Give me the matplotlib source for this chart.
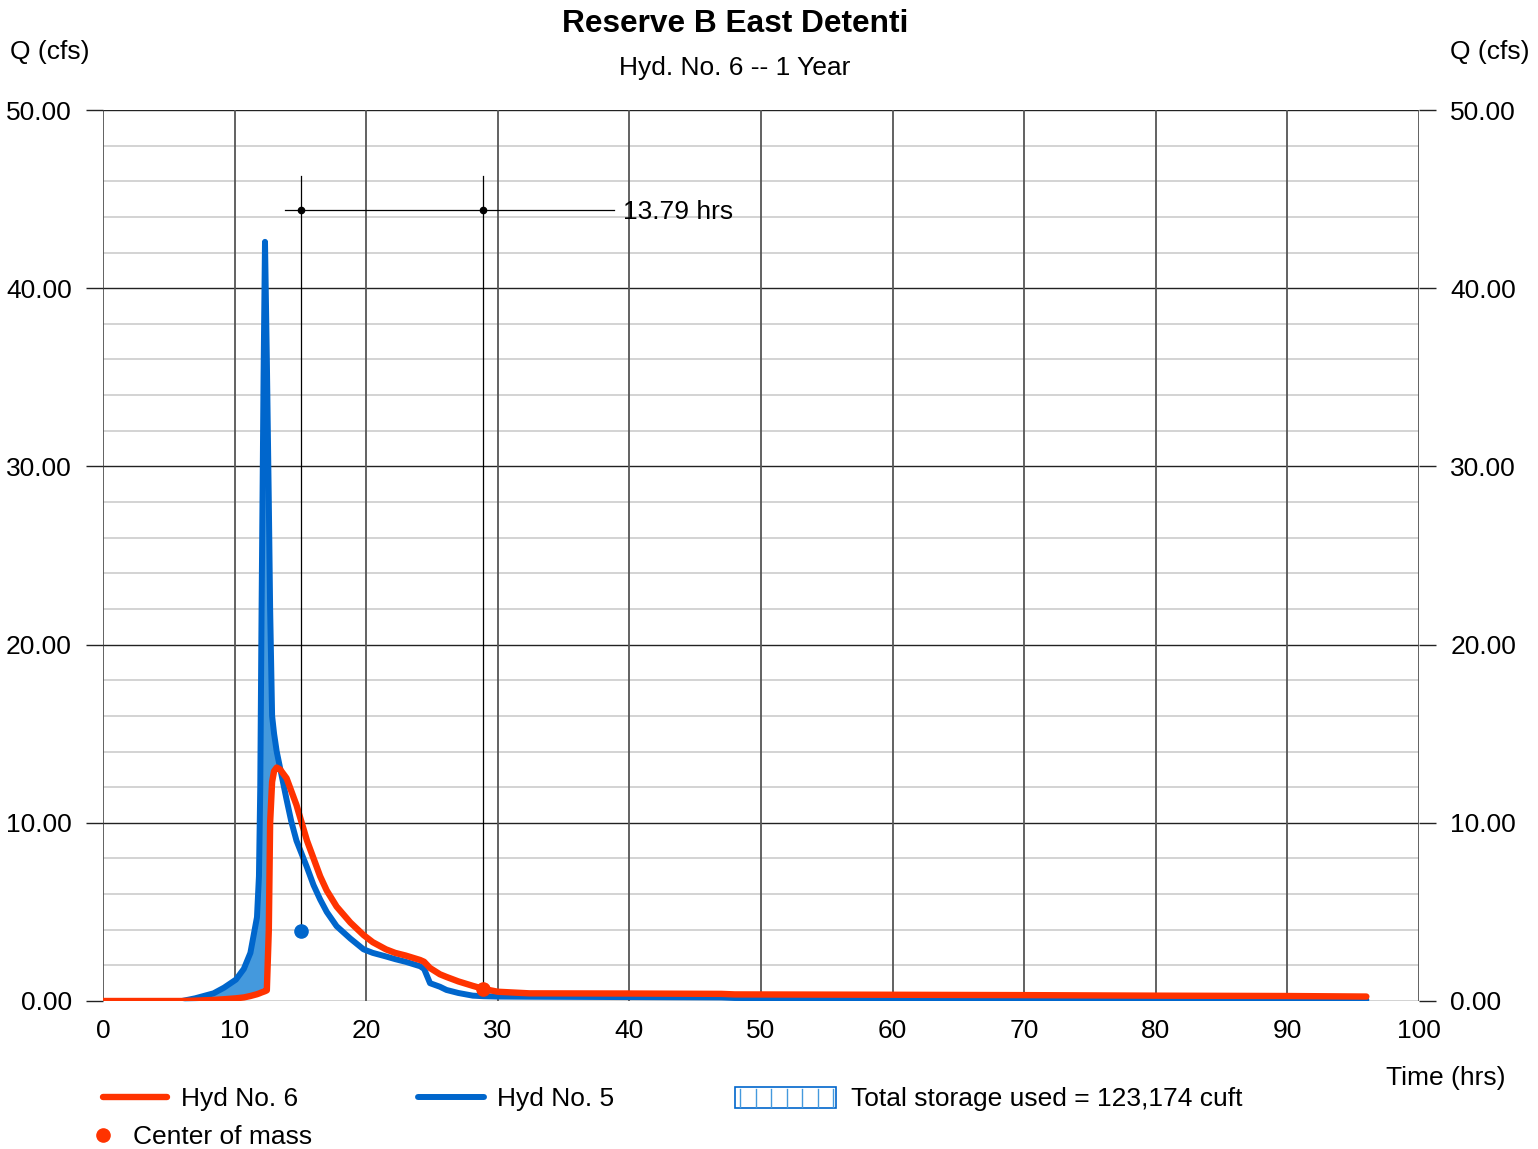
import matplotlib
matplotlib.use("Agg")
import matplotlib.pyplot as plt
from matplotlib.lines import Line2D
from matplotlib.patches import Rectangle
import numpy as np

plt.rcParams['font.family'] = ['Liberation Sans', 'DejaVu Sans']

# ---- data ----
time_hrs = [0, 6, 7, 8.4, 9.2, 10.1, 10.7, 11.2, 11.7, 11.85, 11.95, 12.05, 12.2, 12.31,
            12.45, 12.6, 12.7, 12.85, 13.0, 13.2, 13.45, 13.95, 14.3, 14.7, 15.5, 16.0,
            16.5, 17.0, 17.75, 18.8, 19.8, 20.5, 21.5, 22.2, 23.0, 24.1, 24.4, 24.85,
            25.6, 26.1, 27.0, 28.1, 28.9, 30.0, 32.4, 40, 47, 48, 60, 70, 80, 90, 96]
hyd5_inflow = [0, 0, 0.15, 0.43, 0.75, 1.2, 1.8, 2.7, 4.7, 7.0, 12, 22, 35, 42.6,
               36, 28, 22, 16, 15, 14, 13.1, 11.3, 10.1, 9.0, 7.5, 6.5,
               5.7, 5.0, 4.2, 3.5, 2.9, 2.7, 2.5, 2.35, 2.2, 1.95, 1.8, 1.0,
               0.8, 0.62, 0.45, 0.3, 0.27, 0.25, 0.24, 0.22, 0.2, 0.17, 0.13, 0.1, 0.08, 0.06, 0.06]
hyd6_outflow = [0, 0, 0.02, 0.06, 0.1, 0.15, 0.2, 0.28, 0.38, 0.42, 0.45, 0.48, 0.52, 0.55,
                0.6, 4, 10, 12.3, 12.9, 13.1, 13.0, 12.5, 11.8, 11.0, 9.0, 8.0,
                7.0, 6.2, 5.3, 4.4, 3.7, 3.3, 2.9, 2.7, 2.55, 2.3, 2.2, 1.85,
                1.5, 1.35, 1.1, 0.85, 0.68, 0.52, 0.43, 0.42, 0.4, 0.37, 0.35, 0.33, 0.3, 0.28, 0.25]
com_in = (15.07, 3.95)
com_out = (28.86, 0.67)
lag_text = "13.79 hrs"
dim_y = 44.4
dim_top = 46.3
x_ticks = [0, 10, 20, 30, 40, 50, 60, 70, 80, 90, 100]
y_ticks = [0, 10, 20, 30, 40, 50]

W, H = 1538, 1149
RED = '#ff3300'
BLUE = '#0066cc'
FILL = '#4499dd'

fig = plt.figure(figsize=(W / 100, H / 100), dpi=100)
ax = fig.add_axes([103 / W, (H - 1001) / H, 1316 / W, 891 / H])
ax.set_xlim(0, 100)
ax.set_ylim(0, 50)

# grid
for y in np.arange(2, 50, 2):
    if y % 10:
        ax.axhline(y, color='#cccccc', lw=1.2, zorder=0)
for y in y_ticks:
    ax.axhline(y, color='#222222', lw=1.0, zorder=0.5)
for x in x_ticks:
    ax.axvline(x, color='#555555', lw=1.3, zorder=0.5)

for s in ax.spines.values():
    s.set_visible(False)

ax.set_xticks(x_ticks)
ax.set_xticklabels([str(v) for v in x_ticks], fontsize=19)
ax.set_yticks(y_ticks)
ax.set_yticklabels([f"{v:.2f}" for v in y_ticks], fontsize=19)
ax.tick_params(axis='x', length=0, pad=13)
ax.tick_params(axis='y', length=12, width=1.0, color='#222222', direction='out',
               left=True, right=True, labelleft=True, labelright=True, pad=10.5)

t = np.array(time_hrs)
b = np.array(hyd5_inflow)
r = np.array(hyd6_outflow)

ax.fill_between(t, r, b, where=(b > r) & (t < 14), interpolate=True,
                color=FILL, lw=0, zorder=2)
ax.plot(t, b, color=BLUE, lw=4.3, zorder=3, solid_joinstyle='round', solid_capstyle='round')
ax.plot(t, r, color=RED, lw=4.6, zorder=4, solid_joinstyle='round', solid_capstyle='round')

# center of mass markers and lag dimension
ax.plot([com_in[0], com_in[0]], [com_in[1], dim_top], color='black', lw=0.9, zorder=5)
ax.plot([com_out[0], com_out[0]], [com_out[1], dim_top], color='black', lw=0.9, zorder=5)
ax.plot([13.8, 38.8], [dim_y, dim_y], color='black', lw=0.9, zorder=5)
ax.plot([com_in[0], com_out[0]], [dim_y, dim_y], 'o', color='black', ms=4.5, zorder=6)
ax.plot(*com_in, 'o', color=BLUE, ms=9.5, zorder=7)
ax.plot(*com_out, 'o', color=RED, ms=9.5, zorder=7)
ax.text(39.5, dim_y - 0.1, lag_text, fontsize=19, va='center', ha='left', zorder=6)


def fx(x):
    return x / W


def fy(y):
    return 1 - y / H


# titles and axis labels
fig.text(fx(735), fy(24), "Reserve B East Detenti", fontsize=22.8, fontweight='bold',
         ha='center', va='center')
fig.text(fx(735), fy(68), "Hyd. No. 6 -- 1 Year", fontsize=19, ha='center', va='center')
fig.text(fx(10), fy(52), "Q (cfs)", fontsize=19, ha='left', va='center')
fig.text(fx(1530), fy(52), "Q (cfs)", fontsize=19, ha='right', va='center')
fig.text(fx(1505), fy(1078), "Time (hrs)", fontsize=19, ha='right', va='center')

# legend
fig.add_artist(Line2D([fx(103), fx(167)], [fy(1097), fy(1097)], color=RED, lw=4.6,
                      solid_capstyle='round', transform=fig.transFigure))
fig.text(fx(181), fy(1099), "Hyd No. 6", fontsize=19, ha='left', va='center')
fig.add_artist(Line2D([fx(418), fx(484)], [fy(1097), fy(1097)], color=BLUE, lw=4.3,
                      solid_capstyle='round', transform=fig.transFigure))
fig.text(fx(497), fy(1099), "Hyd No. 5", fontsize=19, ha='left', va='center')
fig.add_artist(Rectangle((fx(735), fy(1108)), fx(101), 21 / H, facecolor='white',
                         edgecolor=BLUE, lw=1.2, transform=fig.transFigure))
for xx in [740, 756, 771, 787, 802, 818, 833]:
    fig.add_artist(Line2D([fx(xx), fx(xx)], [fy(1107), fy(1089)], color=FILL, lw=1.0,
                          transform=fig.transFigure))
fig.text(fx(851), fy(1099), "Total storage used = 123,174 cuft", fontsize=19,
         ha='left', va='center')
fig.add_artist(Line2D([fx(103)], [fy(1135)], marker='o', color=RED, ms=9.5, lw=0,
                      transform=fig.transFigure))
fig.text(fx(133), fy(1137), "Center of mass", fontsize=19, ha='left', va='center')

fig.savefig("out.png", dpi=100)
